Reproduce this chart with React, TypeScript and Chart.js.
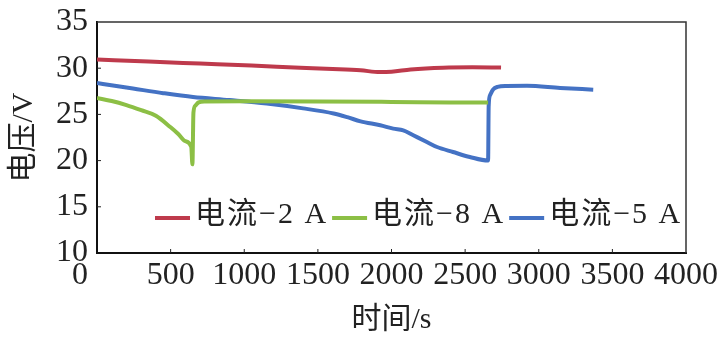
import React, { useEffect, useRef } from 'react';
import { Chart, registerables } from 'chart.js';

Chart.register(...registerables);

const FONT = "'Liberation Serif', 'Times New Roman', 'Noto Sans CJK SC', serif";

// 电流-2 A
const redTime = [0, 350, 700, 1050, 1380, 1600, 1790, 1920, 2000, 2130, 2350, 2550, 2744];
const redVolt = [30.93, 30.72, 30.5, 30.28, 30.06, 29.92, 29.77, 29.58, 29.62, 29.86, 30.06, 30.1, 30.07];

// 电流-8 A
const greenTime = [0, 100, 200, 300, 400, 500, 550, 600, 640, 648, 655, 668, 690, 730, 1000, 1500, 2000, 2400, 2656];
const greenVolt = [26.78, 26.45, 26.0, 25.45, 24.85, 23.6, 22.9, 22.1, 21.5, 19.6, 25.2, 25.95, 26.3, 26.4, 26.42, 26.4, 26.35, 26.3, 26.28];

// 电流-5 A
const blueTime = [0, 120, 244, 450, 652, 900, 1153, 1400, 1607, 1700, 1790, 1924, 2012, 2080, 2148, 2240, 2309, 2418, 2532, 2656, 2660, 2670, 2690, 2720, 2780, 2920, 3145, 3370];
const blueVolt = [28.4, 28.1, 27.8, 27.3, 26.88, 26.55, 26.17, 25.65, 25.1, 24.7, 24.25, 23.82, 23.46, 23.28, 22.74, 22.01, 21.47, 20.93, 20.39, 20.0, 25.9, 27.1, 27.7, 27.98, 28.08, 28.1, 27.86, 27.68];

const seriesLabels = ['电流−2 A', '电流−8 A', '电流−5 A'];
const seriesColors = ['#BE3A4C', '#8CBF45', '#4472C4'];

const xTitle = '时间/s';
const yTitle = '电压/V';

const toXY = (t: number[], v: number[]) => t.map((x, i) => ({ x, y: v[i] }));

const framePlugin = {
  id: 'frame',
  afterDraw(chart: any) {
    const { ctx, chartArea: ca, scales } = chart;
    ctx.save();
    // top and right border
    ctx.strokeStyle = '#333';
    ctx.lineWidth = 1.5;
    ctx.beginPath();
    ctx.moveTo(ca.left, ca.top);
    ctx.lineTo(ca.right, ca.top);
    ctx.lineTo(ca.right, ca.bottom);
    ctx.stroke();
    // inward tick marks
    ctx.strokeStyle = '#222';
    ctx.lineWidth = 1;
    scales.x.ticks.forEach((t: any) => {
      const px = scales.x.getPixelForValue(t.value);
      if (px <= ca.left + 1 || px >= ca.right - 1) return;
      ctx.beginPath();
      ctx.moveTo(px, ca.bottom);
      ctx.lineTo(px, ca.bottom - 4);
      ctx.stroke();
    });
    scales.y.ticks.forEach((t: any) => {
      const py = scales.y.getPixelForValue(t.value);
      if (py <= ca.top + 1 || py >= ca.bottom - 1) return;
      ctx.beginPath();
      ctx.moveTo(ca.left, py);
      ctx.lineTo(ca.left + 4, py);
      ctx.stroke();
    });
    // the "0" label of the x axis sits left of its tick
    ctx.font = `32px ${FONT}`;
    ctx.fillStyle = '#222';
    ctx.textAlign = 'center';
    ctx.textBaseline = 'middle';
    ctx.fillText('0', scales.x.getPixelForValue(0) - 17, ca.bottom + 23);
    ctx.restore();
  },
};

const legendPlugin = {
  id: 'inlineLegend',
  afterDatasetsDraw(chart: any) {
    const { ctx, chartArea: ca } = chart;
    ctx.save();
    ctx.font = `30px ${FONT}`;
    try { (ctx as any).letterSpacing = '2px'; } catch (e) {}
    let x = ca.left + 58;
    const y = ca.top + 196;
    chart.data.datasets.forEach((ds: any) => {
      ctx.strokeStyle = ds.borderColor;
      ctx.lineWidth = 4;
      ctx.beginPath();
      ctx.moveTo(x, y);
      ctx.lineTo(x + 35, y);
      ctx.stroke();
      x += 40;
      ctx.fillStyle = '#222';
      ctx.textAlign = 'left';
      ctx.textBaseline = 'middle';
      ctx.fillText(ds.label, x, y - 3);
      x += ctx.measureText(ds.label).width + 4;
    });
    ctx.restore();
  },
};

export default function App() {
  const ref = useRef<HTMLCanvasElement>(null);
  useEffect(() => {
    if (!ref.current) return;
    const series = [toXY(redTime, redVolt), toXY(greenTime, greenVolt), toXY(blueTime, blueVolt)];
    const chart = new Chart(ref.current, {
      type: 'line',
      data: {
        datasets: series.map((d, i) => ({
          label: seriesLabels[i],
          data: d,
          borderColor: seriesColors[i],
          backgroundColor: seriesColors[i],
          borderWidth: 4,
          pointRadius: 0,
          cubicInterpolationMode: 'monotone' as const,
          fill: false,
        })),
      },
      options: {
        responsive: false,
        animation: false,
        devicePixelRatio: 1,
        layout: { padding: { top: 22, right: 41, bottom: 0, left: 0 } },
        plugins: { legend: { display: false }, tooltip: { enabled: false } },
        scales: {
          x: {
            type: 'linear',
            min: 0,
            max: 4000,
            afterFit: (s: any) => { s.height = 88; s.paddingLeft = 0; s.paddingRight = 0; },
            grid: { display: false, drawTicks: false },
            border: { display: true, color: '#111', width: 2 },
            ticks: {
              stepSize: 500,
              padding: 3,
              color: '#222',
              maxRotation: 0,
              autoSkip: false,
              font: { family: FONT, size: 32 },
              callback: (v: any) => (v === 0 ? '' : String(v)),
            },
            title: {
              display: true,
              text: xTitle,
              color: '#222',
              font: { family: FONT, size: 30 },
              padding: { top: 0, bottom: 3 },
            },
          },
          y: {
            min: 10,
            max: 35,
            afterFit: (s: any) => { s.width = 97; s.paddingTop = 0; s.paddingBottom = 0; },
            grid: { display: false, drawTicks: false },
            border: { display: true, color: '#111', width: 2 },
            ticks: {
              stepSize: 5,
              padding: 9,
              color: '#222',
              font: { family: FONT, size: 32 },
            },
            title: {
              display: true,
              text: yTitle,
              color: '#222',
              font: { family: FONT, size: 30 },
              padding: { top: 6, bottom: 0 },
            },
          },
        },
      },
      plugins: [framePlugin, legendPlugin],
    });
    return () => chart.destroy();
  }, []);
  return (
    <div style={{ position: 'absolute', left: 0, top: 0, width: 727, height: 341, background: '#fff' }}>
      <canvas ref={ref} width={727} height={341} style={{ display: 'block', width: 727, height: 341 }} />
    </div>
  );
}
